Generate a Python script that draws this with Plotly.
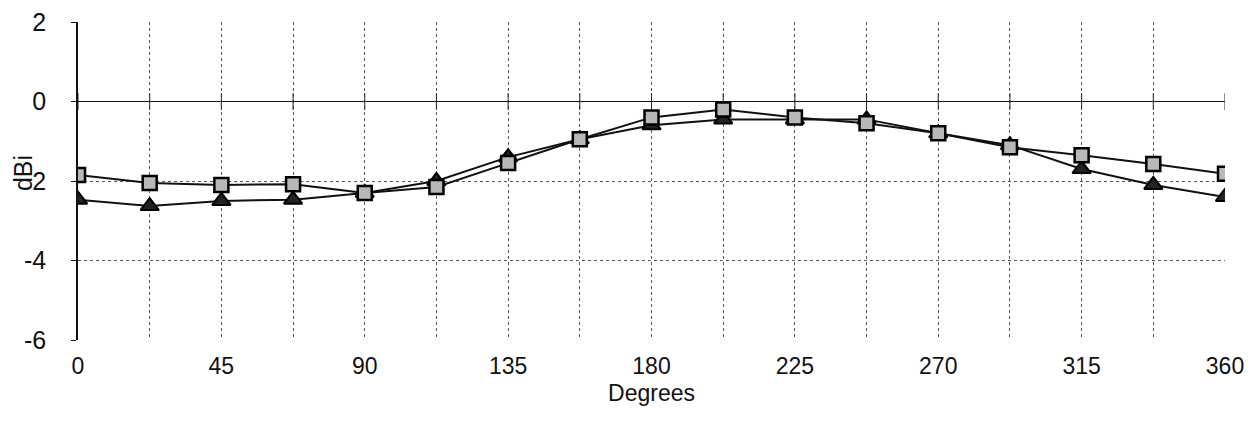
import plotly.graph_objects as go

degrees = [0, 22.5, 45, 67.5, 90, 112.5, 135, 157.5, 180, 202.5, 225, 247.5, 270, 292.5, 315, 337.5, 360]
series_square = [-1.85, -2.05, -2.1, -2.08, -2.3, -2.15, -1.55, -0.95, -0.4, -0.2, -0.4, -0.55, -0.8, -1.15, -1.35, -1.57, -1.82]
series_triangle = [-2.47, -2.63, -2.5, -2.47, -2.3, -2.0, -1.4, -0.95, -0.6, -0.45, -0.45, -0.45, -0.8, -1.1, -1.7, -2.1, -2.4]
x_ticks = [0, 45, 90, 135, 180, 225, 270, 315, 360]
y_ticks = [-6, -4, -2, 0, 2]

font_main = "Liberation Sans, Arial, sans-serif"

fig = go.Figure()

# tick marks crossing the zero line
fig.add_trace(go.Scatter(
    x=degrees, y=[0] * len(degrees), mode="markers",
    marker=dict(symbol="line-ns-open", size=12, color="#222", line=dict(color="#222", width=1)),
    hoverinfo="skip", showlegend=False))

fig.add_trace(go.Scatter(
    x=degrees, y=series_triangle, mode="lines+markers", name="triangle",
    line=dict(color="#111", width=2),
    marker=dict(symbol="triangle-up", size=16, color="#222", line=dict(color="#000", width=2)),
    showlegend=False))

fig.add_trace(go.Scatter(
    x=degrees, y=series_square, mode="lines+markers", name="square",
    line=dict(color="#111", width=2),
    marker=dict(symbol="square", size=14, color="#b8b8b8", line=dict(color="#000", width=2.5)),
    showlegend=False))

fig.update_layout(
    width=1245, height=415,
    margin=dict(l=70, r=28, t=14, b=83, autoexpand=False),
    paper_bgcolor="white", plot_bgcolor="white",
    font=dict(family=font_main, color="#111"),
    xaxis=dict(
        range=[0, 360], tickvals=x_ticks, ticktext=[str(v) for v in x_ticks],
        showgrid=True, gridcolor="#555", griddash="dot", gridwidth=1,
        minor=dict(dtick=22.5, tick0=0, showgrid=True, gridcolor="#555", griddash="dot", gridwidth=1),
        zeroline=False, showline=False, ticks="",
        ticklabelstandoff=10, ticklabeloverflow="allow", automargin=False,
        tickfont=dict(size=23, family=font_main),
        title=dict(text="Degrees", font=dict(size=23, family=font_main), standoff=6),
    ),
    yaxis=dict(
        range=[-6, 2], tickvals=y_ticks, ticktext=["-6", "-4", "2", "0", "2"],
        showgrid=True, gridcolor="#555", griddash="dot", gridwidth=1,
        zeroline=True, zerolinecolor="#111", zerolinewidth=1,
        showline=True, linecolor="#111", linewidth=1.5,
        ticks="outside", ticklen=5, tickcolor="#111",
        ticklabelstandoff=20, ticklabeloverflow="allow", automargin=False,
        tickfont=dict(size=25, family=font_main),
    ),
    annotations=[dict(
        text="dBi", textangle=-90, xref="paper", yref="y", x=0, y=-1.8,
        xanchor="center", yanchor="middle",
        xshift=-55, showarrow=False, font=dict(size=25, family=font_main),
    )],
)

fig.write_html("out.html")
